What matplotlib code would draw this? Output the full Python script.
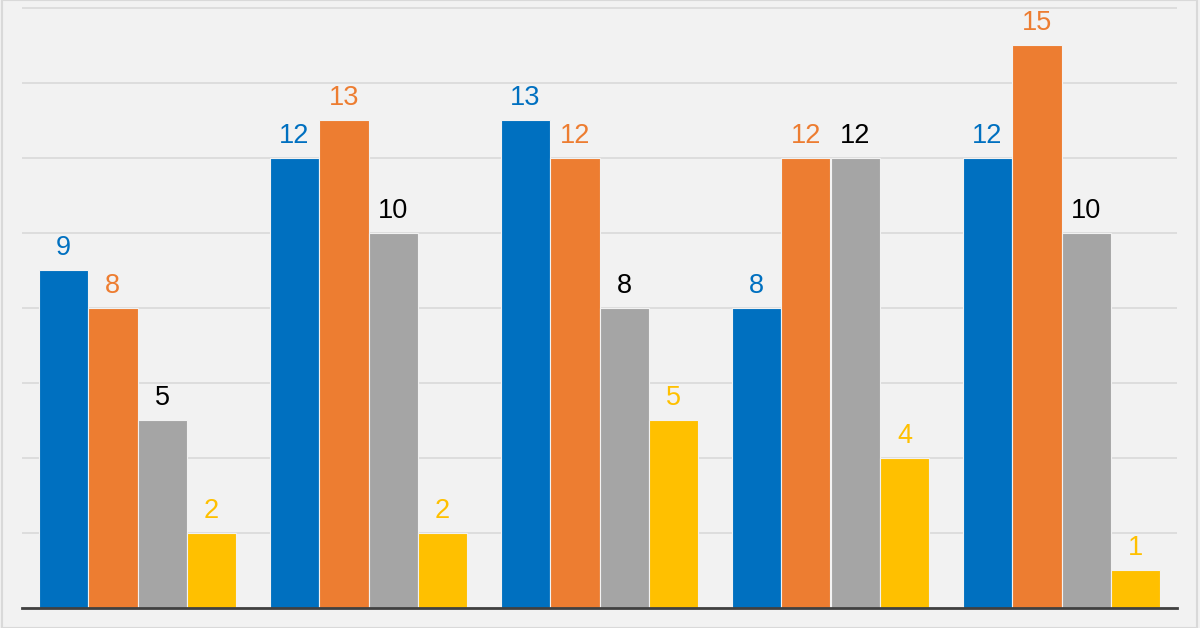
import matplotlib
matplotlib.use("Agg")
import matplotlib.pyplot as plt
import numpy as np
from matplotlib.patches import Rectangle

categories = ["G1", "G2", "G3", "G4", "G5"]
series_names = ["Series 1", "Series 2", "Series 3", "Series 4"]
s1 = [9, 12, 13, 8, 12]
s2 = [8, 13, 12, 12, 15]
s3 = [5, 10, 8, 12, 10]
s4 = [2, 2, 5, 4, 1]
series = [s1, s2, s3, s4]
colors = ["#0070c0", "#ed7d31", "#a5a5a5", "#ffc000"]
label_colors = ["#0070c0", "#ed7d31", "#000000", "#ffc000"]
yticks = [0, 2, 4, 6, 8, 10, 12, 14, 16]

plt.rcParams['font.family'] = ['Liberation Sans', 'DejaVu Sans']

fig = plt.figure(figsize=(12, 6.28), dpi=100)
fig.patch.set_facecolor("#f2f2f2")
ax = fig.add_axes([22/1200, 20/628, (1177-22)/1200, 608/628])
ax.set_facecolor("#f2f2f2")

x = np.arange(len(categories))
w = 0.214
for i, (vals, c, lc) in enumerate(zip(series, colors, label_colors)):
    pos = x + (i - 1.5) * w
    bars = ax.bar(pos, vals, width=w, color=c, edgecolor="#f2f2f2", linewidth=0.8, zorder=3)
    for b, v in zip(bars, vals):
        ax.annotate(str(v), (b.get_x() + b.get_width()/2, v), xytext=(0, 6.5),
                    textcoords="offset points", ha="center", va="bottom",
                    fontsize=19.5, color=lc, zorder=4)

ax.set_xlim(-0.5, 4.5)
ax.set_ylim(0, 16.21)
ax.set_yticks(yticks)
ax.yaxis.grid(True, color="#d9d9d9", linewidth=1.2, zorder=0)
ax.set_axisbelow(True)
ax.tick_params(left=False, bottom=False, labelleft=False, labelbottom=False)
for s in ["top", "right", "left"]:
    ax.spines[s].set_visible(False)
ax.spines["bottom"].set_color("#404040")
ax.spines["bottom"].set_linewidth(2)
ax.spines["bottom"].set_zorder(5)

fig.add_artist(Rectangle((2/1200, 0), 1195/1200, 1, transform=fig.transFigure,
                         fill=False, edgecolor="#d9d9d9", linewidth=1.5))

fig.savefig("out.png", dpi=100, facecolor=fig.get_facecolor())
